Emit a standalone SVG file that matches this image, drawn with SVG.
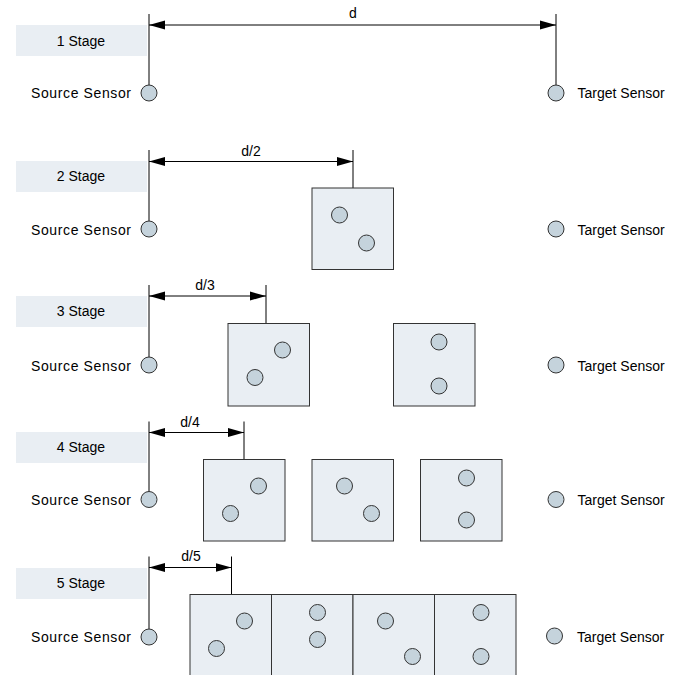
<svg xmlns="http://www.w3.org/2000/svg" width="684" height="675" viewBox="0 0 684 675">
  <defs>
    <marker id="arrowStart" markerUnits="userSpaceOnUse" markerWidth="16" markerHeight="10" refX="0" refY="5" orient="auto" viewBox="0 0 16 10">
      <path d="M16,0.5 L0,5 L16,9.5 Z" fill="#000"/>
    </marker>
    <marker id="arrowEnd" markerUnits="userSpaceOnUse" markerWidth="16" markerHeight="10" refX="16" refY="5" orient="auto" viewBox="0 0 16 10">
      <path d="M0,0.5 L16,5 L0,9.5 Z" fill="#000"/>
    </marker>
  </defs>
  <style>
    text { font-family: "Liberation Sans", Arial, sans-serif; font-size: 14px; fill: #000; }
    .stage-box { fill: #e9eef3; stroke: none; }
    .cell { fill: #e9eef3; stroke: #333; stroke-width: 1; }
    .sensor { fill: #c5d3dc; stroke: #333; stroke-width: 1; }
    .lead { stroke: #000; stroke-width: 1; fill: none; }
    .dim { stroke: #000; stroke-width: 1; fill: none; marker-start: url(#arrowStart); marker-end: url(#arrowEnd); }
    .mid { text-anchor: middle; }
  </style>

  <rect width="684" height="675" fill="#fff"/>

  <!-- stage labels -->
  <g id="stage-labels">
    <g id="stage1-label"><rect class="stage-box" x="16" y="25" width="131" height="31"/><text class="mid" x="81" y="45.5">1 Stage</text></g>
    <g id="stage2-label"><rect class="stage-box" x="16" y="161" width="131" height="31"/><text class="mid" x="81" y="181">2 Stage</text></g>
    <g id="stage3-label"><rect class="stage-box" x="16" y="296" width="131" height="31"/><text class="mid" x="81" y="316">3 Stage</text></g>
    <g id="stage4-label"><rect class="stage-box" x="16" y="432" width="131" height="31"/><text class="mid" x="81" y="452">4 Stage</text></g>
    <g id="stage5-label"><rect class="stage-box" x="16" y="568" width="131" height="31"/><text class="mid" x="81" y="588">5 Stage</text></g>
  </g>

  <!-- connectors: leader lines and dimension arrows -->
  <g id="connectors">
    <!-- stage 1 -->
    <line class="lead" x1="149" y1="14" x2="149" y2="93"/>
    <line class="lead" x1="556" y1="14" x2="556" y2="93" stroke="#444"/>
    <line class="dim" x1="149" y1="25" x2="556" y2="25"/>
    <!-- stage 2 -->
    <line class="lead" x1="149" y1="150" x2="149" y2="229"/>
    <line class="lead" x1="353" y1="150" x2="353" y2="188"/>
    <line class="dim" x1="149" y1="161.5" x2="353" y2="161.5"/>
    <!-- stage 3 -->
    <line class="lead" x1="149" y1="285" x2="149" y2="365"/>
    <line class="lead" x1="266" y1="285" x2="266" y2="323.5"/>
    <line class="dim" x1="149" y1="296" x2="266" y2="296"/>
    <!-- stage 4 -->
    <line class="lead" x1="149" y1="421.5" x2="149" y2="499.5"/>
    <line class="lead" x1="244" y1="421.5" x2="244" y2="459.5"/>
    <line class="dim" x1="149" y1="432.5" x2="244" y2="432.5"/>
    <!-- stage 5 -->
    <line class="lead" x1="149" y1="556.5" x2="149" y2="637"/>
    <line class="lead" x1="231.5" y1="556.5" x2="231.5" y2="594.5"/>
    <line class="dim" x1="149" y1="567.5" x2="231.5" y2="567.5"/>
  </g>

  <!-- dimension labels -->
  <g id="dimension-labels">
    <text class="mid" x="353" y="18">d</text>
    <text class="mid" x="251" y="156">d/2</text>
    <text class="mid" x="205" y="290">d/3</text>
    <text class="mid" x="190" y="426.5">d/4</text>
    <text class="mid" x="191" y="561">d/5</text>
  </g>

  <!-- stage 1 -->
  <g id="stage1">
    <g id="s1-source"><circle class="sensor" cx="149" cy="93" r="8"/><text x="31" y="98" textLength="100" lengthAdjust="spacing">Source Sensor</text></g>
    <g id="s1-target"><circle class="sensor" cx="556" cy="93" r="8"/><text x="577.5" y="98">Target Sensor</text></g>
  </g>

  <!-- stage 2 -->
  <g id="stage2">
    <g id="s2-source"><circle class="sensor" cx="149" cy="229" r="8"/><text x="31" y="234.5" textLength="100" lengthAdjust="spacing">Source Sensor</text></g>
    <g id="s2-cell1"><rect class="cell" x="312" y="188" width="81.5" height="81.5"/><circle class="sensor" cx="339.5" cy="215" r="8"/><circle class="sensor" cx="366.5" cy="243" r="8"/></g>
    <g id="s2-target"><circle class="sensor" cx="556" cy="229" r="8"/><text x="577.5" y="234.5">Target Sensor</text></g>
  </g>

  <!-- stage 3 -->
  <g id="stage3">
    <g id="s3-source"><circle class="sensor" cx="149" cy="365" r="8"/><text x="31" y="370.5" textLength="100" lengthAdjust="spacing">Source Sensor</text></g>
    <g id="s3-cell1"><rect class="cell" x="228" y="323.5" width="81.5" height="82.5"/><circle class="sensor" cx="282.5" cy="350" r="8"/><circle class="sensor" cx="255" cy="377.5" r="8"/></g>
    <g id="s3-cell2"><rect class="cell" x="393.5" y="323.5" width="81.5" height="82.5"/><circle class="sensor" cx="439" cy="342" r="8"/><circle class="sensor" cx="439" cy="386" r="8"/></g>
    <g id="s3-target"><circle class="sensor" cx="556" cy="365" r="8"/><text x="577.5" y="370.5">Target Sensor</text></g>
  </g>

  <!-- stage 4 -->
  <g id="stage4">
    <g id="s4-source"><circle class="sensor" cx="149" cy="499.5" r="8"/><text x="31" y="505" textLength="100" lengthAdjust="spacing">Source Sensor</text></g>
    <g id="s4-cell1"><rect class="cell" x="203.5" y="459.5" width="81.5" height="81.5"/><circle class="sensor" cx="258.5" cy="486" r="8"/><circle class="sensor" cx="230.5" cy="513.5" r="8"/></g>
    <g id="s4-cell2"><rect class="cell" x="312" y="459.5" width="81.5" height="81.5"/><circle class="sensor" cx="344.5" cy="486" r="8"/><circle class="sensor" cx="371.5" cy="513.5" r="8"/></g>
    <g id="s4-cell3"><rect class="cell" x="420.5" y="459.5" width="81.5" height="81.5"/><circle class="sensor" cx="466.5" cy="478" r="8"/><circle class="sensor" cx="466.5" cy="520" r="8"/></g>
    <g id="s4-target"><circle class="sensor" cx="556" cy="499.5" r="8"/><text x="577.5" y="505">Target Sensor</text></g>
  </g>

  <!-- stage 5 -->
  <g id="stage5">
    <g id="s5-source"><circle class="sensor" cx="149" cy="637" r="8"/><text x="31" y="642" textLength="100" lengthAdjust="spacing">Source Sensor</text></g>
    <g id="s5-cell1"><rect class="cell" x="190" y="594.5" width="81.5" height="84"/><circle class="sensor" cx="244.5" cy="621" r="8"/><circle class="sensor" cx="216.5" cy="648.5" r="8"/></g>
    <g id="s5-cell2"><rect class="cell" x="271.5" y="594.5" width="81.5" height="84"/><circle class="sensor" cx="317.5" cy="612.5" r="8"/><circle class="sensor" cx="317.5" cy="639.5" r="8"/></g>
    <g id="s5-cell3"><rect class="cell" x="353" y="594.5" width="81.5" height="84"/><circle class="sensor" cx="385.5" cy="621" r="8"/><circle class="sensor" cx="412.5" cy="656.5" r="8"/></g>
    <g id="s5-cell4"><rect class="cell" x="434.5" y="594.5" width="81.5" height="84"/><circle class="sensor" cx="481" cy="612.5" r="8"/><circle class="sensor" cx="481" cy="656.5" r="8"/></g>
    <g id="s5-target"><circle class="sensor" cx="554.5" cy="636" r="8"/><text x="577" y="641.5">Target Sensor</text></g>
  </g>
</svg>
